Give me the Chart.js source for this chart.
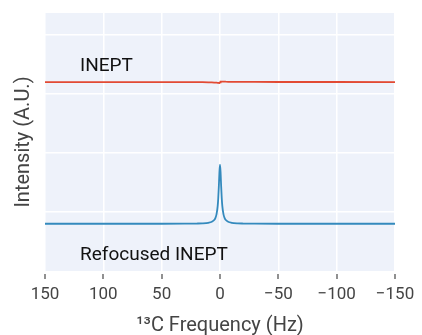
<!DOCTYPE html>
<html>
<head>
<meta charset="utf-8">
<script src="https://cdn.jsdelivr.net/npm/chart.js@4"></script>
<style>
  html, body { margin: 0; padding: 0; background: #fff; }
  #wrap { width: 422px; height: 335px; }
</style>
</head>
<body>
<div id="wrap"><canvas id="myChart" width="422" height="335"></canvas></div>
<script>
// frequency axis (Hz) and intensities
let freqs = [150, 100, 50, 30, 20, 15, 10, 7, 5, 4, 3, 2, 1.5, 1, 0.5, 0,
  -0.5, -1, -1.5, -2, -3, -4, -5, -7, -10, -15, -20, -30, -50, -100, -150];
let refocused = [-0.2, -0.2, -0.2, -0.198, -0.196, -0.193, -0.183, -0.167, -0.137, -0.104, -0.04, 0.1, 0.23, 0.43, 0.67, 0.8,
  0.67, 0.43, 0.23, 0.1, -0.04, -0.104, -0.137, -0.167, -0.183, -0.193, -0.196, -0.198, -0.2, -0.2, -0.2];
let inept = [2.2, 2.2, 2.2, 2.2, 2.199, 2.198, 2.196, 2.194, 2.192, 2.19, 2.189, 2.187, 2.185, 2.184, 2.183, 2.195,
  2.207, 2.208, 2.208, 2.208, 2.207, 2.207, 2.206, 2.205, 2.204, 2.203, 2.203, 2.202, 2.201, 2.201, 2.2];
let xTicks = [150, 100, 50, 0, -50, -100, -150];
let yGrid = [0, 1, 2, 3];
let labelsText = [
  { text: "INEPT", x: 120, y: 2.39 },
  { text: "Refocused INEPT", x: 120, y: -0.81 }
];

const fontFam = "Roboto, 'Liberation Sans', sans-serif";

const extras = {
  id: "extras",
  beforeDraw(chart) {
    const a = chart.chartArea;
    const c = chart.ctx;
    c.save();
    c.fillStyle = "#eef2fa";
    c.fillRect(a.left, a.top, a.right - a.left, a.bottom - a.top);
    c.restore();
  },
  afterDraw(chart) {
    const c = chart.ctx;
    const xs = chart.scales.x;
    const ys = chart.scales.y;
    c.save();
    c.strokeStyle = "#555";
    c.lineWidth = 1.3;
    xTicks.forEach(function (t) {
      const px = Math.round(xs.getPixelForValue(t));
      c.beginPath();
      c.moveTo(px, chart.chartArea.bottom + 3);
      c.lineTo(px, chart.chartArea.bottom + 8);
      c.stroke();
    });
    c.fillStyle = "#111";
    c.font = "19px " + fontFam;
    c.textBaseline = "alphabetic";
    labelsText.forEach(function (l) {
      c.fillText(l.text, xs.getPixelForValue(l.x), ys.getPixelForValue(l.y));
    });
    c.restore();
  }
};

function toPoints(ys) {
  return freqs.map(function (f, i) { return { x: f, y: ys[i] }; });
}

var ctx = document.getElementById("myChart");
var chart = new Chart(ctx, {
  type: "line",
  data: {
    datasets: [
      {
        label: "INEPT",
        data: toPoints(inept),
        borderColor: "#e24a33",
        borderWidth: 1.8,
        pointRadius: 0,
        tension: 0,
      },
      {
        label: "Refocused INEPT",
        data: toPoints(refocused),
        borderColor: "#348abd",
        borderWidth: 1.8,
        pointRadius: 0,
        cubicInterpolationMode: "monotone",
      },
    ],
  },
  options: {
    responsive: false,
    animation: false,
    layout: {
      padding: { top: 13, right: 27, left: 0, bottom: 0 },
    },
    plugins: {
      legend: { display: false },
      tooltip: { enabled: false },
    },
    scales: {
      x: {
        type: "linear",
        min: -150,
        max: 150,
        reverse: true,
        afterBuildTicks: function (s) { s.ticks = xTicks.map(function (v) { return { value: v }; }); },
        afterFit: function (s) { s.height = 64; },
        border: { display: false },
        grid: { color: "#ffffff", lineWidth: 1.5, tickLength: 9, tickColor: "rgba(0,0,0,0)" },
        ticks: {
          color: "#444",
          font: { size: 17, family: fontFam },
          padding: 5,
          maxRotation: 0,
          callback: function (v) { return String(v).replace("-", "\u2212"); },
        },
        title: {
          display: true,
          text: "\u00b9\u00b3C Frequency (Hz)",
          color: "#444",
          font: { size: 20, family: fontFam },
          padding: { top: 0, bottom: -3 },
        },
      },
      y: {
        type: "linear",
        min: -1,
        max: 3.37,
        afterBuildTicks: function (s) { s.ticks = yGrid.map(function (v) { return { value: v }; }); },
        afterFit: function (s) { s.width = 45; },
        border: { display: false },
        grid: { color: "#ffffff", lineWidth: 1.5, drawTicks: false },
        ticks: { display: false },
        title: {
          display: true,
          text: "Intensity (A.U.)",
          color: "#444",
          font: { size: 20, family: fontFam },
          padding: { top: 12, bottom: 0 },
        },
      },
    },
  },
  plugins: [extras],
});
</script>
</body>
</html>
